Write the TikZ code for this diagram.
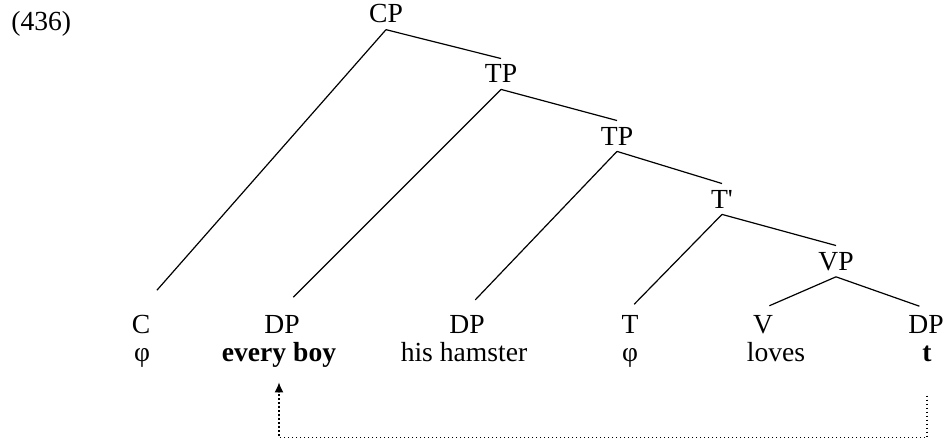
\documentclass[tikz,border=0pt]{standalone}
\usepackage{fontspec}
\setmainfont{Liberation Serif}
\usepackage{tikz}
\usetikzlibrary{arrows.meta,positioning}

\begin{document}
\begin{tikzpicture}[
    x=0.5pt, y=-0.5pt,
    font=\fontsize{13.8}{16}\selectfont,
    cat/.style={inner sep=3pt, anchor=base},
    word/.style={inner sep=3pt, anchor=base},
    branch/.style={line width=0.6pt},
    trace/.style={line width=0.7pt, dash pattern=on 0.7pt off 1.3pt, -{Latex[length=5pt,width=4.5pt]}}
  ]
    \useasboundingbox (0,0) rectangle (948,439);
    \node[word, anchor=base west] (ex) at (5,31) {(436)};
    % spine
    \node[cat] (cp) at (386,23) {CP};
    \node[cat] (tp1) at (501,83) {TP};
    \node[cat] (tp2) at (617,145) {TP};
    \node[cat] (tbar) at (722,208) {T\textquotesingle};
    \node[cat] (vp) at (836,270) {VP};
    % leaves
    \node[cat] (c) at (141,333) {C};
    \node[cat] (dp1) at (282,333) {DP};
    \node[cat] (dp2) at (467,333) {DP};
    \node[cat] (t) at (630,333) {T};
    \node[cat] (v) at (763,333) {V};
    \node[cat] (dp3) at (926,333) {DP};
    \node[word] (cw) at (142,361) {φ};
    \node[word] (boyw) at (279,361) {\textbf{every boy}};
    \node[word] (hamw) at (464,361) {his hamster};
    \node[word] (tw) at (630,361) {φ};
    \node[word] (vw) at (776,361) {loves};
    \node[word] (trw) at (927,361) {\textbf{t}};
    % branches
    \draw[branch] (cp.south) -- (tp1.north);
    \draw[branch] (tp1.south) -- (tp2.north);
    \draw[branch] (tp2.south) -- (tbar.north);
    \draw[branch] (tbar.south) -- (vp.north);
    \draw[branch, shorten >=12pt] (cp.south) -- (c.north);
    \draw[branch, shorten >=8pt] (tp1.south) -- (dp1.north);
    \draw[branch, shorten >=6pt] (tp2.south) -- (dp2.north);
    \draw[branch, shorten >=3pt] (tbar.south) -- (t.north);
    \draw[branch, shorten >=3.5pt] (vp.south) -- (v.north);
    \draw[branch, shorten >=3.5pt] (vp.south) -- (dp3.north);
    % movement
    \draw[trace, shorten <=14pt, shorten >=4.5pt] (trw.south) -- ++(0,70) -| (boyw.south);
\end{tikzpicture}
\end{document}
